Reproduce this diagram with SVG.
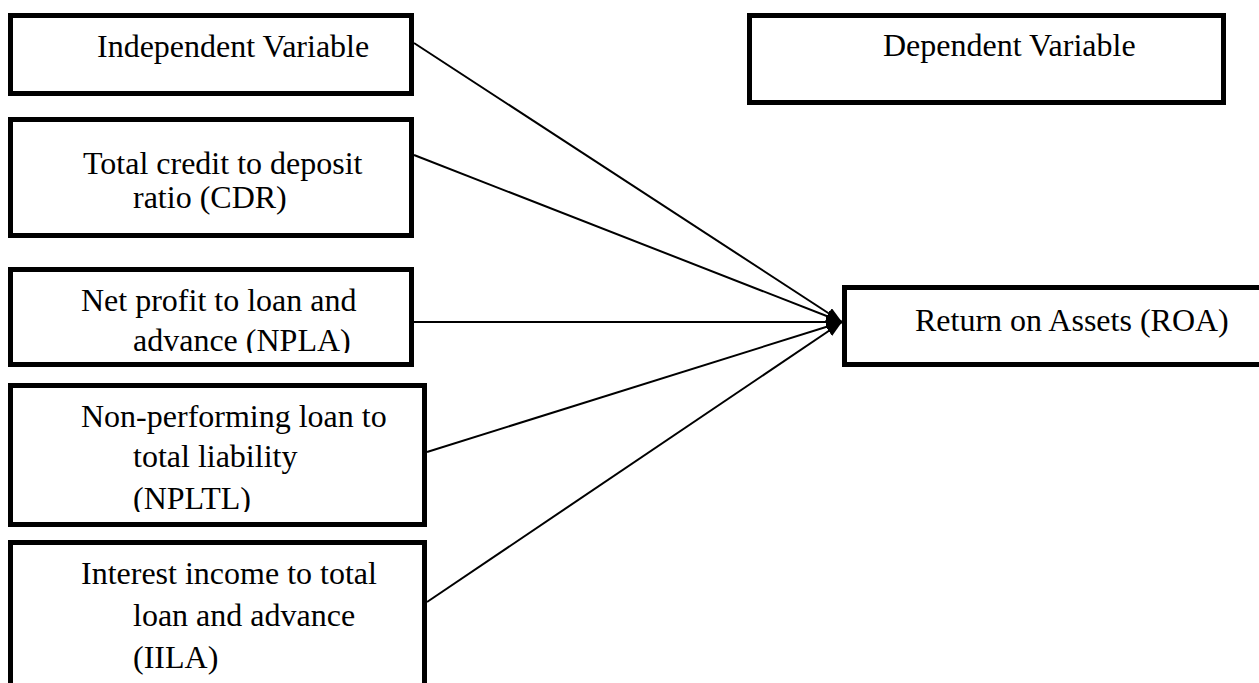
<svg xmlns="http://www.w3.org/2000/svg" width="1259" height="683" viewBox="0 0 1259 683">
<style>
.box{fill:#fff;stroke:#000;stroke-width:5}
.t{font-family:'Liberation Serif','Times New Roman',serif;font-size:32px;fill:#000}
.conn line{stroke:#000;stroke-width:2}
</style>
<defs>
<marker id="arr" viewBox="0 0 16 12" refX="16" refY="6" markerWidth="16" markerHeight="12" markerUnits="userSpaceOnUse" orient="auto">
<path d="M0,0 L16,6 L0,12 Z" fill="#000"/>
</marker>
<clipPath id="c3"><rect x="0" y="270" width="420" height="83"/></clipPath>
<clipPath id="c4"><rect x="0" y="386" width="430" height="126"/></clipPath>
</defs>
<rect width="1259" height="683" fill="#fff"/>
<g id="n-independent">
<rect class="box" x="10.5" y="15.5" width="401" height="78"/>
<text class="t" x="97" y="57">Independent Variable</text>
</g>
<g id="n-cdr">
<rect class="box" x="10.5" y="119.5" width="401" height="116"/>
<text class="t" x="83" y="174">Total credit to deposit</text>
<text class="t" x="133" y="208">ratio (CDR)</text>
</g>
<g id="n-npla">
<rect class="box" x="10.5" y="269.5" width="401" height="95"/>
<g clip-path="url(#c3)">
<text class="t" x="81" y="311">Net profit to loan and</text>
<text class="t" x="133" y="351">advance (NPLA)</text>
</g>
</g>
<g id="n-npltl">
<rect class="box" x="10.5" y="385.5" width="414" height="139"/>
<g clip-path="url(#c4)">
<text class="t" x="81" y="427">Non-performing loan to</text>
<text class="t" x="133" y="467">total liability</text>
<text class="t" x="133" y="509">(NPLTL)</text>
</g>
</g>
<g id="n-iila">
<rect class="box" x="10.5" y="542.5" width="414" height="200"/>
<text class="t" x="81" y="584">Interest income to total</text>
<text class="t" x="133" y="626">loan and advance</text>
<text class="t" x="133" y="668">(IILA)</text>
</g>
<g id="n-dependent">
<rect class="box" x="749.5" y="15.5" width="474" height="87"/>
<text class="t" x="883" y="56">Dependent Variable</text>
</g>
<g id="n-roa">
<rect class="box" x="844.5" y="287.5" width="430" height="77"/>
<text class="t" x="915" y="331">Return on Assets (ROA)</text>
</g>
<g class="conn" id="connectors">
<line x1="414" y1="43" x2="842" y2="322" marker-end="url(#arr)"/>
<line x1="414" y1="155" x2="842" y2="322" marker-end="url(#arr)"/>
<line x1="414" y1="322" x2="842" y2="322" marker-end="url(#arr)"/>
<line x1="427" y1="452" x2="842" y2="322" marker-end="url(#arr)"/>
<line x1="427" y1="602" x2="842" y2="322" marker-end="url(#arr)"/>
</g>
</svg>
